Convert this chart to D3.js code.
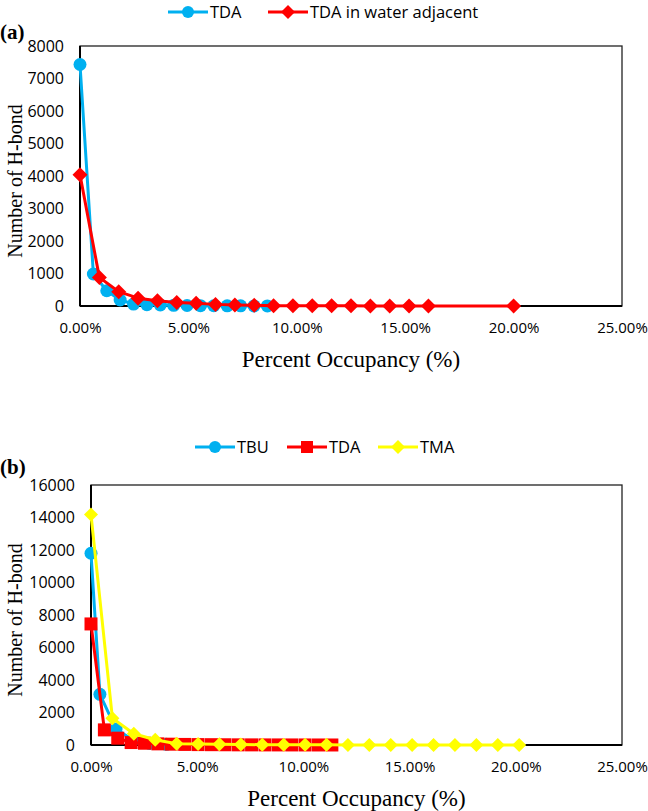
<!DOCTYPE html>
<html><head><meta charset="utf-8">
<script src="https://cdn.jsdelivr.net/npm/d3@7/dist/d3.min.js"></script>
<style>body{margin:0;background:#fff}</style>
</head><body>
<svg id="c" width="648" height="811"></svg>
<script>
// ---------- data ----------
const xTicks = [0, 5, 10, 15, 20, 25];
const yTicksA = [0, 1000, 2000, 3000, 4000, 5000, 6000, 7000, 8000];
const yTicksB = [0, 2000, 4000, 6000, 8000, 10000, 12000, 14000, 16000];

// Panel (a)
const tdaA_x = [0, 0.617, 1.235, 1.852, 2.469, 3.086, 3.704, 4.321, 4.938, 5.556, 6.173, 6.790, 7.407, 8.025, 8.642];
const tdaA_y = [7430, 985, 470, 185, 60, 40, 30, 20, 15, 10, 8, 6, 4, 3, 2];
const waterA_x = [0, 0.893, 1.786, 2.679, 3.571, 4.464, 5.357, 6.25, 7.143, 8.036, 8.929, 9.821, 10.714, 11.607, 12.5, 13.393, 14.286, 15.179, 16.071, 20.0];
const waterA_y = [4040, 880, 440, 240, 165, 105, 85, 50, 30, 20, 10, 8, 6, 5, 4, 3, 2, 2, 1, 1];

// Panel (b)
const tbuB_x = [0, 0.42, 1.18, 1.97, 2.76, 3.55];
const tbuB_y = [11800, 3120, 980, 300, 100, 40];
const tdaB_x = [0, 0.63, 1.26, 1.89, 2.52, 3.15, 3.78, 4.41, 5.04, 5.67, 6.30, 6.93, 7.56, 8.19, 8.82, 9.45, 10.08, 10.71, 11.34];
const tdaB_y = [7450, 930, 420, 150, 110, 70, 50, 35, 25, 20, 15, 10, 8, 6, 5, 4, 3, 2, 1];
const tmaB_x = [0, 1.008, 2.016, 3.024, 4.032, 5.04, 6.048, 7.056, 8.064, 9.072, 10.08, 11.088, 12.096, 13.104, 14.112, 15.12, 16.128, 17.136, 18.144, 19.152, 20.16];
const tmaB_y = [14180, 1650, 690, 320, 80, 60, 40, 30, 20, 15, 10, 8, 6, 5, 4, 3, 3, 2, 2, 1, 1];

const seriesA = [
  {name: "TDA", xs: tdaA_x, ys: tdaA_y, color: "#00B0F0", marker: "circle"},
  {name: "TDA in water adjacent", xs: waterA_x, ys: waterA_y, color: "#FF0000", marker: "diamond"}
];
const seriesB = [
  {name: "TBU", xs: tbuB_x, ys: tbuB_y, color: "#00B0F0", marker: "circle"},
  {name: "TDA", xs: tdaB_x, ys: tdaB_y, color: "#FF0000", marker: "square"},
  {name: "TMA", xs: tmaB_x, ys: tmaB_y, color: "#FFFF00", marker: "diamond"}
];

// ---------- drawing ----------
const svg = d3.select("#c");
const tickFont = "'Open Sans', sans-serif";
const serif = "'Liberation Serif', 'Times New Roman', serif";

function markerPath(type, size) {
  if (type === "circle") return d3.symbol(d3.symbolCircle, Math.PI * size * size)();
  if (type === "square") return d3.symbol(d3.symbolSquare, (2 * size) * (2 * size))();
  return `M0,${-size}L${size},0L0,${size}L${-size},0Z`;
}

function drawPanel(cfg) {
  const {left, right, top, bottom, yMax, yTicks, series, label, labelY, legendY, legendItems, msize} = cfg;
  const g = svg.append("g");
  const x = d3.scaleLinear().domain([0, 25]).range([left, right]);
  const y = d3.scaleLinear().domain([0, yMax]).range([bottom, top]);

  g.append("rect").attr("x", left).attr("y", top).attr("width", right - left).attr("height", bottom - top)
    .attr("fill", "none").attr("stroke", "#222").attr("stroke-width", 1.3);
  g.append("line").attr("x1", left).attr("x2", left).attr("y1", top).attr("y2", bottom)
    .attr("stroke", "#000").attr("stroke-width", 2);
  g.append("line").attr("x1", left).attr("x2", right).attr("y1", bottom).attr("y2", bottom)
    .attr("stroke", "#000").attr("stroke-width", 2);

  const ya = g.append("g").attr("transform", `translate(${left},0)`)
    .call(d3.axisLeft(y).tickValues(yTicks).tickSize(0).tickPadding(16).tickFormat(d3.format("d")));
  ya.select(".domain").remove();
  ya.selectAll("text").attr("font-family", tickFont).attr("font-size", 16).attr("fill", "#000");

  const xa = g.append("g").attr("transform", `translate(0,${bottom})`)
    .call(d3.axisBottom(x).tickValues(xTicks).tickSize(0).tickPadding(16).tickFormat(d => d.toFixed(2) + "%"));
  xa.select(".domain").remove();
  xa.selectAll("text").attr("font-family", tickFont).attr("font-size", 15).attr("fill", "#000");

  g.append("text").attr("x", (left + right) / 2).attr("y", bottom + 61)
    .attr("text-anchor", "middle").attr("font-family", serif).attr("font-size", 23).text("Percent Occupancy (%)");
  g.append("text").attr("transform", `translate(22,${(top + bottom) / 2 + 5}) rotate(-90)`)
    .attr("text-anchor", "middle").attr("font-family", serif).attr("font-size", 20).text("Number of H-bond");
  g.append("text").attr("x", 0).attr("y", labelY).attr("font-family", serif).attr("font-weight", "bold")
    .attr("font-size", 21).text(label);

  series.forEach(s => {
    const pts = s.xs.map((v, i) => [v, s.ys[i]]);
    g.append("path").datum(pts)
      .attr("d", d3.line().x(d => x(d[0])).y(d => y(d[1])))
      .attr("fill", "none").attr("stroke", s.color).attr("stroke-width", 3).attr("stroke-linejoin", "round");
    g.selectAll(null).data(pts).enter().append("path")
      .attr("transform", d => `translate(${x(d[0])},${y(d[1])})`)
      .attr("d", markerPath(s.marker, msize[s.marker]))
      .attr("fill", s.color);
  });

  legendItems.forEach((it, i) => {
    const s = series[i];
    const lg = g.append("g");
    lg.append("line").attr("x1", it.x0).attr("x2", it.x0 + 40).attr("y1", legendY).attr("y2", legendY)
      .attr("stroke", s.color).attr("stroke-width", 3);
    lg.append("path").attr("transform", `translate(${it.x0 + 20},${legendY})`)
      .attr("d", markerPath(s.marker, it.ms)).attr("fill", s.color);
    lg.append("text").attr("x", it.x0 + 42).attr("y", legendY + 6)
      .attr("font-family", tickFont).attr("font-size", 16.5).attr("fill", "#000").text(s.name);
  });
}

drawPanel({
  left: 80, right: 622, top: 46, bottom: 306, yMax: 8000, yTicks: yTicksA, series: seriesA,
  label: "(a)", labelY: 39, legendY: 12,
  legendItems: [{x0: 168, ms: 6}, {x0: 268, ms: 7}],
  msize: {circle: 6.5, diamond: 7.5, square: 6}
});

drawPanel({
  left: 91, right: 622, top: 485, bottom: 745, yMax: 16000, yTicks: yTicksB, series: seriesB,
  label: "(b)", labelY: 474, legendY: 447,
  legendItems: [{x0: 195, ms: 6}, {x0: 287, ms: 6}, {x0: 378, ms: 7}],
  msize: {circle: 6.5, diamond: 7, square: 6.5}
});
</script>
</body></html>
